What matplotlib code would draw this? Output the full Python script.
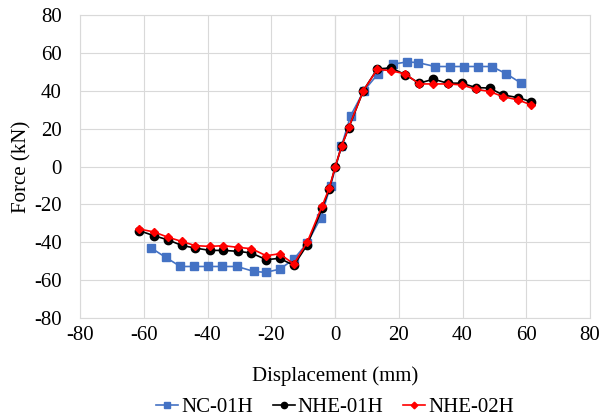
import matplotlib
matplotlib.use("AGG")
import matplotlib.pyplot as plt

# 荷重-変位曲線
nc_x = [-57.6, -53.1, -48.5, -44.3, -39.8, -35.4, -30.7, -25.5, -21.8, -17.3,
        -12.9, -8.7, -4.5, -1.4, 2.0, 4.9, 9.1, 13.5, 18.1, 22.5,
        25.9, 31.4, 36.0, 40.4, 44.8, 49.2, 53.8, 58.4]
nc_y = [-43.1, -48.0, -52.8, -52.8, -52.8, -52.8, -52.8, -55.4, -55.9, -54.2,
        -48.9, -40.4, -27.2, -10.2, 10.6, 26.8, 40.1, 48.9, 54.0, 55.2,
        54.9, 52.8, 52.8, 52.8, 52.8, 52.8, 48.9, 44.0]

nhe1_x = [-61.4, -56.7, -52.5, -48.0, -43.8, -39.2, -35.0, -30.4, -26.2, -21.6,
          -17.4, -12.9, -8.7, -4.0, -1.8, 0.1, 2.1, 4.3, 8.9, 13.3,
          17.7, 22.1, 26.4, 30.9, 35.3, 39.7, 44.2, 48.5, 52.7, 57.3, 61.5]
nhe1_y = [-33.9, -36.6, -38.7, -41.7, -43.1, -44.3, -44.3, -44.8, -45.7, -49.2,
          -48.5, -52.2, -41.3, -22.0, -11.8, 0.0, 10.9, 20.3, 40.1, 51.6,
          52.0, 48.4, 44.0, 46.1, 44.0, 44.0, 41.7, 41.4, 37.8, 36.4, 34.3]

nhe2_x = [-61.4, -56.7, -52.5, -48.0, -43.8, -39.2, -35.0, -30.4, -26.2, -21.6,
          -17.4, -12.9, -8.7, -4.0, -1.8, 0.1, 2.1, 4.3, 8.9, 13.3,
          17.7, 22.1, 26.4, 30.9, 35.3, 39.7, 44.2, 48.5, 52.7, 57.3, 61.5]
nhe2_y = [-33.0, -34.6, -37.3, -39.6, -41.8, -42.2, -41.8, -42.7, -43.4, -47.1,
          -46.1, -51.5, -39.9, -20.7, -11.4, 0.0, 10.9, 20.6, 40.1, 51.4,
          50.5, 48.9, 43.6, 43.6, 43.6, 43.1, 40.8, 39.6, 36.9, 35.2, 32.6]

ticks = [-80, -60, -40, -20, 0, 20, 40, 60, 80]

plt.rcParams["font.family"] = ["Liberation Serif", "DejaVu Serif"]
plt.rcParams["axes.unicode_minus"] = False  # Excel風にハイフンのマイナス

fig = plt.figure(figsize=(6.02, 4.20), dpi=100)
ax = fig.add_axes([80 / 602, 102 / 420, 510 / 602, 303 / 420])

ax.plot(nc_x, nc_y, color="#4472C4", lw=1.2, marker="s", ms=5.5, label="NC-01H", zorder=3)
ax.plot(nhe1_x, nhe1_y, color="black", lw=1.2, marker="o", ms=6, label="NHE-01H", zorder=4)
ax.plot(nhe2_x, nhe2_y, color="#FF0000", lw=1.2, marker="D", ms=4.5, label="NHE-02H", zorder=5)

ax.set_xlim(-80, 80)
ax.set_ylim(-80, 80)
ax.set_xticks(ticks)
ax.set_yticks(ticks)
ax.grid(True, color="#D9D9D9", lw=0.8)
ax.axvline(0, color="#BFBFBF", lw=0.8, zorder=1)
for s in ax.spines.values():
    s.set_color("#D9D9D9")
    s.set_linewidth(0.8)
ax.tick_params(length=0, labelsize=15)
ax.tick_params(axis="y", pad=13)
ax.tick_params(axis="x", pad=6)

ax.set_xlabel("Displacement (mm)", fontsize=15, labelpad=15)
ax.set_ylabel("Force (kN)", fontsize=15, labelpad=2)

leg = ax.legend(loc="center", bbox_to_anchor=(0.5, -0.295), ncol=3, frameon=False,
                fontsize=15, handlelength=1.05, handletextpad=0.15, columnspacing=0.95,
                markerscale=0.75)

fig.savefig("out.png", dpi=100)
